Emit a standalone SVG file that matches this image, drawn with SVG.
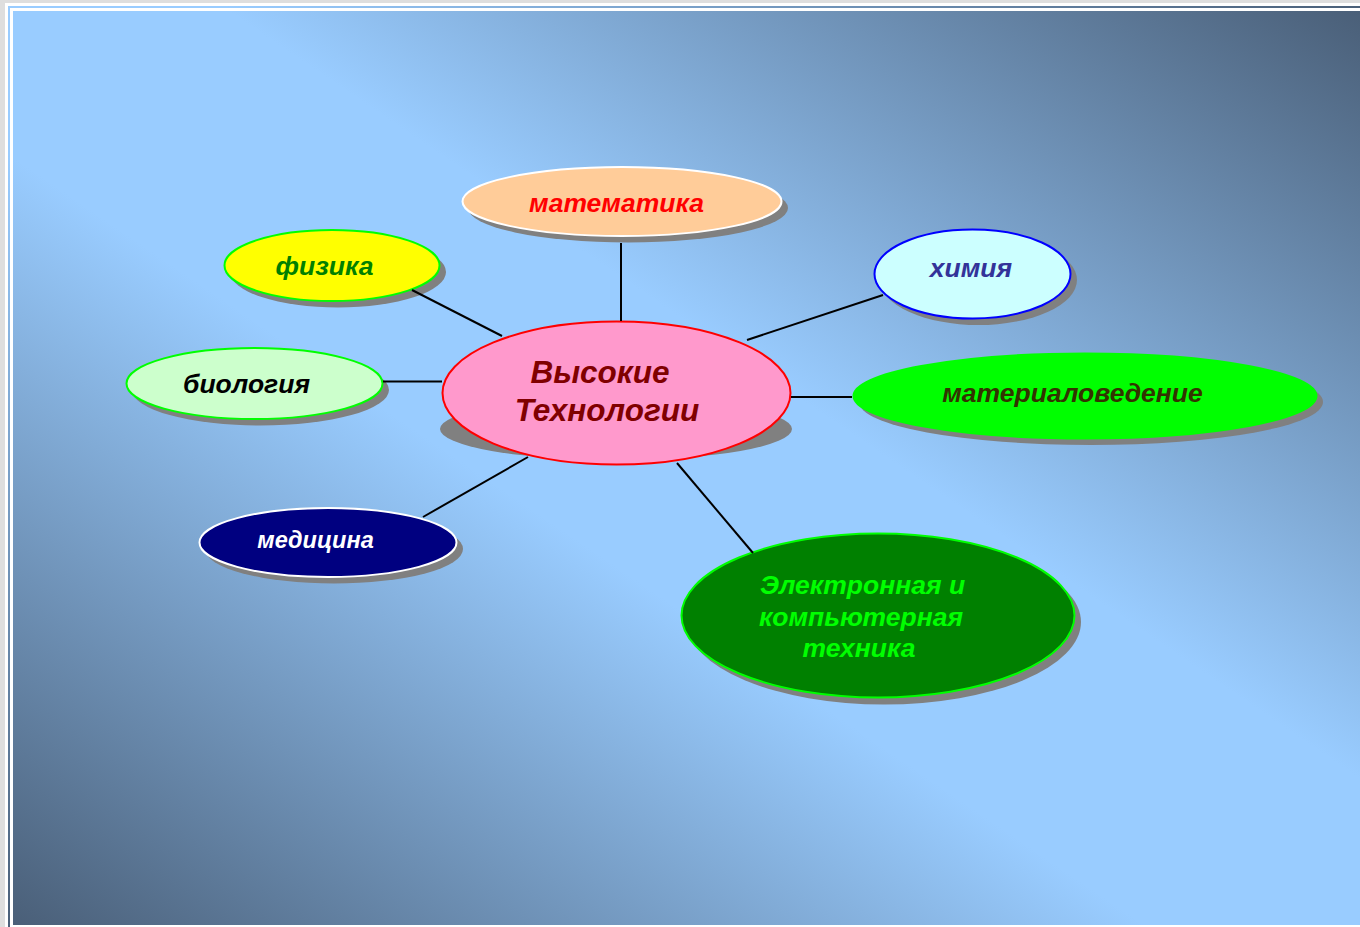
<svg xmlns="http://www.w3.org/2000/svg" width="1360" height="927" viewBox="0 0 1360 927">
<defs>
<linearGradient id="bg" x1="1" y1="0" x2="0" y2="1">
<stop offset="0" stop-color="#4a5f78"/>
<stop offset="0.42" stop-color="#99ccff"/>
<stop offset="0.58" stop-color="#99ccff"/>
<stop offset="1" stop-color="#4a5f78"/>
</linearGradient>
<style>
.lbl{font-family:"Liberation Sans",Arial,sans-serif;font-weight:bold;font-style:italic;text-anchor:middle;font-size:26.5px}
.big{font-size:31.5px}
.sh{fill:#808080}
.conn line{stroke:#000;stroke-width:2}
</style>
</defs>
<rect x="0" y="0" width="1360" height="927" fill="#dedede"/>
<rect x="5" y="3" width="1355" height="924" fill="#ffffff"/>
<rect x="9" y="7" width="1360" height="930" fill="none" stroke="url(#bg)" stroke-width="2"/>
<rect x="13" y="11" width="1347" height="914" fill="url(#bg)"/>

<g id="node-center">
<ellipse class="sh" cx="616" cy="429" rx="176" ry="31"/>
<ellipse cx="616.5" cy="393" rx="174" ry="71.5" fill="#ff99cc" stroke="#ff0000" stroke-width="2"/>
<text class="lbl big" x="600" y="383" fill="#800000">Высокие</text>
<text class="lbl big" x="607" y="421" fill="#800000">Технологии</text>
</g>

<g id="node-math">
<ellipse class="sh" cx="628" cy="208" rx="160" ry="34.5"/>
<ellipse cx="622" cy="201.5" rx="159.5" ry="34.5" fill="#ffcc99" stroke="#ffffff" stroke-width="2"/>
<text class="lbl" x="616.5" y="212" fill="#ff0000">математика</text>
</g>

<g id="node-physics">
<ellipse class="sh" cx="338" cy="272" rx="108" ry="35.5"/>
<ellipse cx="332" cy="265.5" rx="107.5" ry="35.5" fill="#ffff00" stroke="#00ff00" stroke-width="2"/>
<text class="lbl" x="324.5" y="275" fill="#008000">физика</text>
</g>

<g id="node-chemistry">
<ellipse class="sh" cx="978.5" cy="280" rx="98.5" ry="45"/>
<ellipse cx="972.5" cy="274" rx="98" ry="44.5" fill="#ccffff" stroke="#0000ff" stroke-width="2"/>
<text class="lbl" x="971" y="277" fill="#333399">химия</text>
</g>

<g id="node-biology">
<ellipse class="sh" cx="260.5" cy="390" rx="128.5" ry="35.5"/>
<ellipse cx="254.5" cy="383.5" rx="128" ry="35.5" fill="#ccffcc" stroke="#00ff00" stroke-width="2"/>
<text class="lbl" x="246.5" y="393" fill="#000000">биология</text>
</g>

<g id="node-materials">
<ellipse class="sh" cx="1091" cy="402" rx="232" ry="43"/>
<ellipse cx="1085" cy="396" rx="231.5" ry="42.5" fill="#00ff00" stroke="#00ff00" stroke-width="2"/>
<text class="lbl" x="1072.5" y="402" fill="#333300">материаловедение</text>
</g>

<g id="node-medicine">
<ellipse class="sh" cx="334" cy="549" rx="129" ry="34.5"/>
<ellipse cx="328" cy="542.5" rx="128.5" ry="34.5" fill="#000080" stroke="#ffffff" stroke-width="2"/>
<text class="lbl" x="315.5" y="548" style="font-size:23.5px" fill="#ffffff">медицина</text>
</g>

<g id="node-electronics">
<ellipse class="sh" cx="884" cy="622" rx="197" ry="82.5"/>
<ellipse cx="878" cy="615.5" rx="196.5" ry="82" fill="#008000" stroke="#00ff00" stroke-width="2"/>
<text class="lbl" x="862.5" y="594" fill="#00ff00">Электронная и</text>
<text class="lbl" x="861" y="626" fill="#00ff00">компьютерная</text>
<text class="lbl" x="859" y="657" fill="#00ff00">техника</text>
</g>

<g id="connectors" class="conn">
<line x1="621" y1="243" x2="621" y2="321"/>
<line x1="412" y1="290" x2="502" y2="336"/>
<line x1="883" y1="295" x2="747" y2="340"/>
<line x1="383" y1="381.5" x2="442" y2="381.5"/>
<line x1="791" y1="397" x2="852" y2="397"/>
<line x1="423" y1="517" x2="528" y2="457"/>
<line x1="677" y1="463" x2="753" y2="553"/>
</g>
</svg>
